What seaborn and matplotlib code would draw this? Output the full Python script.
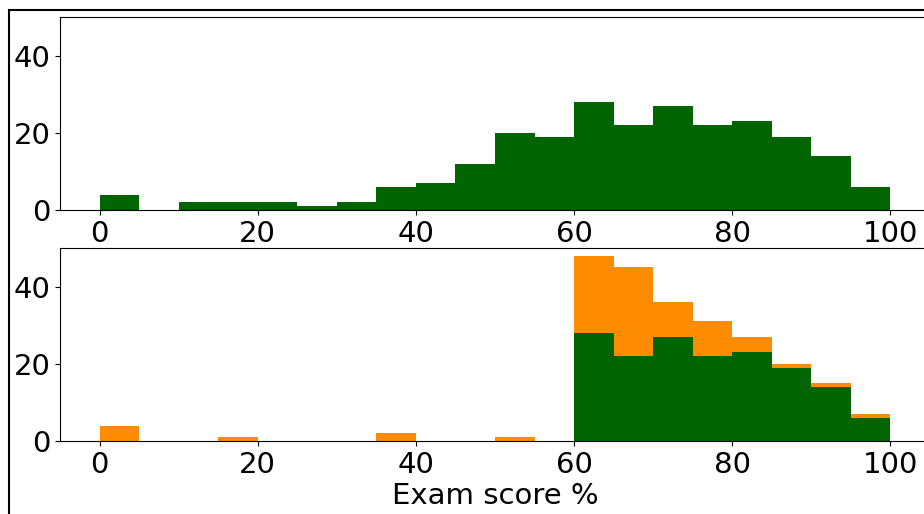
import numpy as np
import pandas as pd
import seaborn as sns
import matplotlib.pyplot as plt
from matplotlib.patches import Rectangle

# bin left edges (width 5) and counts
bin_left = [0, 5, 10, 15, 20, 25, 30, 35, 40, 45, 50, 55, 60, 65, 70, 75, 80, 85, 90, 95]
top_green = [4, 0, 2, 2, 2, 1, 2, 6, 7, 12, 20, 19, 28, 22, 27, 22, 23, 19, 14, 6]
low_green = [0, 0, 0, 0, 0, 0, 0, 0, 0, 0, 0, 0, 28, 22, 27, 22, 23, 19, 14, 6]
low_orange = [4, 0, 0, 1, 0, 0, 0, 2, 0, 0, 1, 0, 20, 23, 9, 9, 4, 1, 1, 1]

bins = list(range(0, 105, 5))
centers = np.array(bin_left) + 2.5

plt.rcParams['font.size'] = 21

fig = plt.figure(figsize=(9.24, 5.14), dpi=100)
W, H = 924, 514
ax1 = fig.add_axes([60 / W, 1 - 210 / H, 870 / W, 193 / H])
ax2 = fig.add_axes([60 / W, 1 - 441 / H, 870 / W, 193 / H])

# --- top: all scores ---
df_top = pd.DataFrame({'score': centers, 'count': top_green})
sns.histplot(data=df_top, x='score', weights='count', bins=bins,
             color='darkgreen', alpha=1, linewidth=0, ax=ax1)

# --- bottom: stacked (green = 60 and above) ---
df_low = pd.DataFrame({
    'score': np.concatenate([centers, centers]),
    'count': low_green + low_orange,
    'group': ['green'] * len(centers) + ['orange'] * len(centers),
})
sns.histplot(data=df_low, x='score', weights='count', hue='group',
             hue_order=['orange', 'green'], multiple='stack', bins=bins,
             palette={'green': 'darkgreen', 'orange': 'darkorange'},
             alpha=1, linewidth=0, legend=False, ax=ax2)

for ax in (ax1, ax2):
    ax.set_xlim(-5, 105)
    ax.set_ylim(0, 50)
    ax.set_yticks([0, 20, 40])
    ax.set_xticks([0, 20, 40, 60, 80, 100])
    ax.set_ylabel('')
    ax.set_xlabel('')
ax2.set_xlabel('Exam score %', labelpad=2)

# figure frame (cropped at right and bottom)
fig.patches.append(Rectangle((8.5 / W, -0.2), 2.0, 1.2 - 9.5 / H, transform=fig.transFigure,
                             fill=False, edgecolor='black', linewidth=1.5))

fig.savefig('out.png', dpi=100)
plt.close(fig)
